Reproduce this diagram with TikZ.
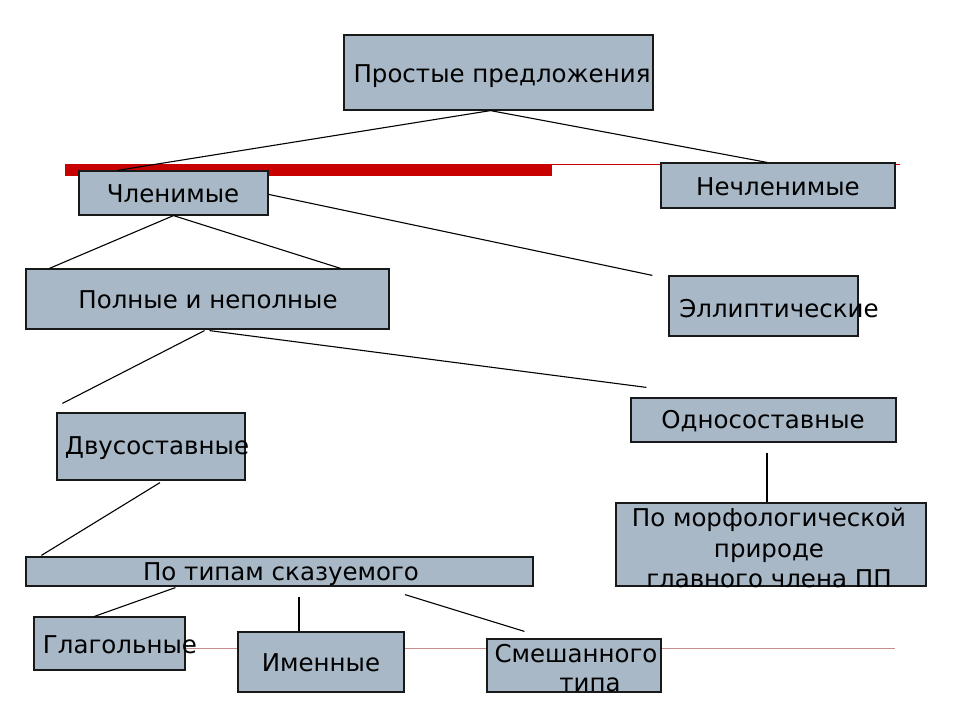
\documentclass[tikz,border=0pt]{standalone}
\usepackage{fontspec}
\setmainfont{DejaVu Sans}
\usetikzlibrary{calc}
\definecolor{boxfill}{RGB}{168,184,198}
\definecolor{barred}{RGB}{200,0,0}
\definecolor{palered}{RGB}{200,140,140}
\tikzset{
  box/.style={draw=black!90, fill=boxfill, line width=1.2pt, inner sep=0pt, rectangle},
  lbl/.style={font=\fontsize{24.5}{30}\selectfont, inner sep=0pt, align=center},
  conn/.style={line width=1.1pt, black},
}
\begin{document}
\begin{tikzpicture}[x=1pt,y=-1pt]
\useasboundingbox (0,0) rectangle (960,720);
\fill[white] (0,0) rectangle (960,720);
% red decorations
\fill[barred] (65,164) rectangle (552,176);
\draw[barred, line width=0.8pt] (552,164.5) -- (900,164.5);
\draw[palered, line width=0.8pt] (185,648) -- (895,648);
% boxes
\node[box, minimum width=309pt, minimum height=75pt] (top) at (498.5,72.5) {};
\node[box, minimum width=189pt, minimum height=44pt] (chl) at (173.5,193) {};
\node[box, minimum width=234pt, minimum height=45pt] (nech) at (778,185.5) {};
\node[box, minimum width=363pt, minimum height=60pt] (poln) at (207.5,299) {};
\node[box, minimum width=189pt, minimum height=60pt] (ell) at (763.5,306) {};
\node[box, minimum width=188pt, minimum height=67pt] (dvu) at (151,446.5) {};
\node[box, minimum width=265pt, minimum height=44pt] (odno) at (763.5,420) {};
\node[box, minimum width=310pt, minimum height=83pt] (morph) at (771,544.5) {};
\node[box, minimum width=507pt, minimum height=29pt] (tip) at (279.5,571.5) {};
\node[box, minimum width=151pt, minimum height=53pt] (glag) at (109.5,643.5) {};
\node[box, minimum width=166pt, minimum height=60pt] (imen) at (321,662) {};
\node[box, minimum width=174pt, minimum height=53pt] (smesh) at (574,665.5) {};
% connectors
\draw[conn] ($(top.south)+(-8,0)$) -- ($(chl.north west)+(39,0)$);
\draw[conn] ($(top.south)+(-8,0)$) -- ($(nech.north)+(-11,0)$);
\draw[conn] (chl.south) -- ($(poln.north west)+(24,0)$);
\draw[conn] (chl.south) -- ($(poln.north east)+(-49,0)$);
\draw[conn] ($(chl.north east)+(0,24)$) -- ($(ell.north west)+(-16,0)$);
\draw[conn] ($(poln.south)+(-3,1)$) -- ($(dvu.north west)+(6,-9)$);
\draw[conn] ($(poln.south)+(2,1)$) -- ($(odno.north west)+(16,-10)$);
\draw[conn] ($(odno.south)+(3.5,10)$) -- ($(morph.north)+(-4,0)$);
\draw[conn] ($(dvu.south)+(9,2)$) -- ($(tip.north west)+(16,-1)$);
\draw[conn] ($(tip.south west)+(150,1)$) -- ($(glag.north west)+(61,0)$);
\draw[conn] ($(tip.south)+(19.5,10)$) -- ($(imen.north)+(-22,0)$);
\draw[conn] ($(tip.south)+(125.5,8)$) -- ($(smesh.north west)+(38,-7)$);
% texts
\node[lbl] (ttop) at (502,76) {Простые предложения};
\node[lbl] (tchl) at (173,194) {Членимые};
\node[lbl] (tnech) at (778,187) {Нечленимые};
\node[lbl] (tpoln) at (208,300) {Полные и неполные};
\node[lbl] (tell) at (779,309) {Эллиптические};
\node[lbl] (tdvu) at (157,448) {Двусоставные};
\node[lbl] (todno) at (763,421) {Односоставные};
\node[lbl, font=\fontsize{24.5}{30.5}\selectfont] (tmorph) at (769,548) {По морфологической\\природе\\главного члена ПП};
\node[lbl] (ttip) at (281,574) {По типам сказуемого};
\node[lbl] (tglag) at (120,645) {Глагольные};
\node[lbl] (timen) at (321,663) {Именные};
\node[lbl] (tsm1) at (576,654) {Смешанного};
\node[lbl] (tsm2) at (590,685) {типа};
\end{tikzpicture}
\end{document}
